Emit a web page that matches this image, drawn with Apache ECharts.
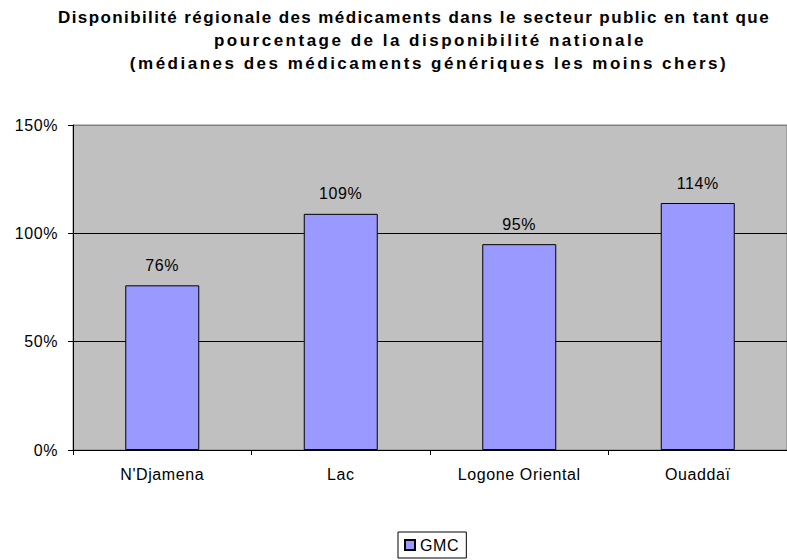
<!DOCTYPE html>
<html>
<head>
<meta charset="utf-8">
<script src="https://cdn.jsdelivr.net/npm/echarts@6/dist/echarts.min.js"></script>
<style>
html,body{margin:0;padding:0;background:#fff;}
#c{width:787px;height:560px;}
#c svg text{letter-spacing:0.6px;}
#c svg text[style*="TitleA"]{letter-spacing:1.4px;}
#c svg text[style*="TitleB"]{letter-spacing:2.5px;}
</style>
</head>
<body>
<div id="c"></div>
<script>
var titleLines = [
  "Disponibilité régionale des médicaments dans le secteur public en tant que",
  "pourcentage de la disponibilité nationale",
  "(médianes des médicaments génériques les moins chers)"
];
var categories = ["N'Djamena", "Lac", "Logone Oriental", "Ouaddaï"];
var seriesName = "GMC";
var values = [76, 109, 95, 114];
var yTicks = [0, 50, 100, 150];

var titleTops = [9, 32, 55];
var titleCenters = [414, 430, 429];
var titles = titleLines.map(function (t, i) {
  return {
    text: t,
    left: titleCenters[i],
    top: titleTops[i],
    textAlign: 'center',
    padding: 0,
    textStyle: {
      fontSize: 17, fontWeight: 'bold', color: '#000',
      fontFamily: i === 0 ? 'TitleA, Liberation Sans' : 'TitleB, Liberation Sans'
    }
  };
});

var chart = echarts.init(document.getElementById('c'), null, {renderer: 'svg'});
chart.setOption({
  animation: false,
  backgroundColor: '#ffffff',
  textStyle: {fontFamily: 'Liberation Sans, Arial, sans-serif'},
  title: titles,
  legend: {
    data: [seriesName],
    left: 398,
    top: 532,
    orient: 'horizontal',
    borderColor: '#000',
    borderWidth: 1,
    padding: [5, 9, 5, 6],
    itemWidth: 10,
    itemHeight: 10,
    itemGap: 5,
    icon: 'rect',
    textStyle: {fontSize: 16, color: '#000'}
  },
  grid: {
    left: 73,
    width: 723,
    top: 125,
    bottom: 110,
    show: true,
    backgroundColor: '#c0c0c0',
    borderColor: '#808080',
    borderWidth: 1,
    containLabel: false
  },
  xAxis: {
    type: 'category',
    data: categories,
    boundaryGap: true,
    axisLine: {show: true, lineStyle: {color: '#000', width: 1}},
    axisTick: {show: true, alignWithLabel: false, length: 5, lineStyle: {color: '#000'}},
    axisLabel: {color: '#000', fontSize: 16, margin: 16}
  },
  yAxis: {
    type: 'value',
    min: yTicks[0],
    max: yTicks[yTicks.length - 1],
    interval: yTicks[1] - yTicks[0],
    axisLine: {show: true, lineStyle: {color: '#000', width: 1}},
    axisTick: {show: true, length: 5, lineStyle: {color: '#000'}},
    axisLabel: {color: '#000', fontSize: 16, margin: 15, formatter: '{value}%'},
    splitLine: {show: true, lineStyle: {color: ['#000', '#000', '#000', '#808080'], width: 1}}
  },
  series: [{
    name: seriesName,
    type: 'bar',
    data: values,
    barWidth: 74,
    itemStyle: {color: '#9999ff', borderColor: '#000', borderWidth: 1},
    label: {show: true, position: 'top', distance: 12, color: '#000', fontSize: 16, formatter: '{c}%'}
  }]
});
</script>
</body>
</html>
